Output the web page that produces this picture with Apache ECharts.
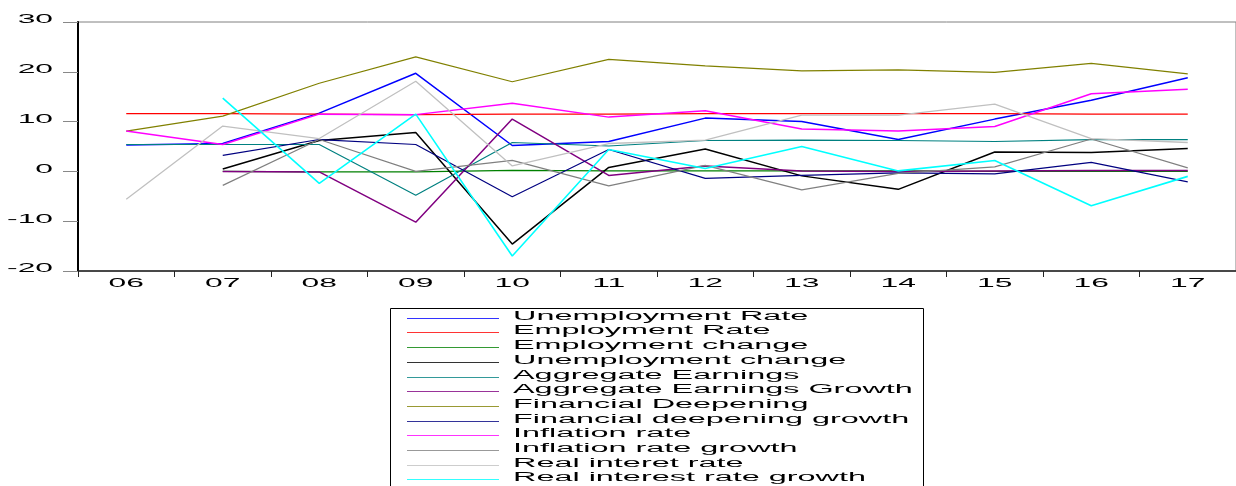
<!DOCTYPE html>
<html>
<head>
<meta charset="utf-8">
<script src="https://cdn.jsdelivr.net/npm/echarts@6/dist/echarts.min.js"></script>
<style>
  html, body { margin: 0; padding: 0; background: #ffffff; }
  #chart { width: 1236px; height: 486px; }
</style>
</head>
<body>
<div id="chart"></div>
<script>
// Years on the category axis
const years = ['06', '07', '08', '09', '10', '11', '12', '13', '14', '15', '16', '17'];
// Value axis ticks
const yTickValues = [30, 20, 10, 0, -10, -20];

// Series values (null where the series has no observation)
const unemploymentRate       = [5.3, 5.6, 11.7, 19.7, 5.2, 6.0, 10.7, 10.0, 6.4, 10.5, 14.3, 18.8];
const employmentRate         = [11.6, 11.6, 11.5, 11.4, 11.5, 11.5, 11.6, 11.6, 11.6, 11.6, 11.5, 11.5];
const employmentChange       = [null, 0.0, -0.1, -0.1, 0.2, 0.1, 0.1, 0.1, 0.1, 0.0, 0.0, 0.0];
const unemploymentChange     = [null, 0.5, 6.2, 7.8, -14.6, 0.8, 4.5, -0.9, -3.6, 3.9, 3.8, 4.6];
const aggregateEarnings      = [5.4, 5.4, 5.4, -4.8, 5.8, 5.1, 6.2, 6.3, 6.2, 6.0, 6.4, 6.4];
const aggregateEarningsGrowth= [null, 0.0, -0.1, -10.2, 10.5, -0.8, 1.1, 0.1, 0.0, 0.1, 0.2, 0.2];
const financialDeepening     = [8.1, 11.1, 17.7, 23.0, 18.0, 22.5, 21.2, 20.2, 20.4, 19.9, 21.7, 19.6];
const financialDeepeningGrowth = [null, 3.2, 6.4, 5.4, -5.1, 4.4, -1.4, -0.8, -0.3, -0.5, 1.8, -2.1];
const inflationRate          = [8.1, 5.4, 11.5, 11.4, 13.7, 10.9, 12.2, 8.5, 8.1, 9.0, 15.6, 16.5];
const inflationRateGrowth    = [null, -2.8, 6.4, 0.0, 2.2, -2.9, 1.2, -3.7, -0.4, 0.9, 6.5, 0.7];
const realInteretRate        = [-5.6, 9.1, 6.6, 18.1, 1.1, 5.6, 6.3, 11.3, 11.3, 13.5, 6.6, 5.8];
const realInterestRateGrowth = [null, 14.7, -2.4, 11.5, -17.0, 4.4, 0.6, 5.0, 0.1, 2.2, -6.9, -1.0];

const seriesNames = [
  'Unemployment Rate', 'Employment Rate', 'Employment change', 'Unemployment change',
  'Aggregate Earnings', 'Aggregate Earnings Growth', 'Financial Deepening',
  'Financial deepening growth', 'Inflation rate', 'Inflation rate growth',
  'Real interet rate', 'Real interest rate growth'
];
const seriesValues = [
  unemploymentRate, employmentRate, employmentChange, unemploymentChange,
  aggregateEarnings, aggregateEarningsGrowth, financialDeepening,
  financialDeepeningGrowth, inflationRate, inflationRateGrowth,
  realInteretRate, realInterestRateGrowth
];

// Styling
const seriesColors = ['#0000ff', '#ff0000', '#008000', '#000000', '#008080', '#800080',
                      '#808000', '#000080', '#ff00ff', '#808080', '#c0c0c0', '#00ffff'];
const seriesWidths = [1.5, 1.2, 1.2, 1.5, 1.2, 1.5, 1.2, 1.2, 1.5, 1.2, 1.3, 1.6];
const FONT = '"Liberation Sans", Arial, sans-serif';
const FONT_SIZE = 12;
const AXIS_STRETCH = 2.65;
const LEGEND_STRETCH = 2.7;

const chart = echarts.init(document.getElementById('chart'), null, { renderer: 'canvas' });

chart.setOption({
  animation: false,
  backgroundColor: '#ffffff',
  grid: { left: 78, right: 0, top: 22, bottom: 215, show: true, borderColor: '#808080', borderWidth: 1 },
  xAxis: {
    type: 'category',
    data: years,
    boundaryGap: true,
    axisLine: { onZero: false, lineStyle: { color: '#222222', width: 1.5 } },
    axisTick: { show: true, length: 6, lineStyle: { color: '#222222', width: 1 } },
    axisLabel: { show: false },
    splitLine: { show: false }
  },
  yAxis: {
    type: 'value',
    min: -20, max: 30, interval: 10,
    axisLine: { show: true, onZero: false, lineStyle: { color: '#000000', width: 2 } },
    axisTick: { show: true, length: 15, lineStyle: { color: '#888888', width: 1 } },
    axisLabel: { show: false },
    splitLine: { show: false }
  },
  series: seriesNames.map((name, i) => ({
    name: name,
    type: 'line',
    data: seriesValues[i],
    symbol: 'none',
    connectNulls: false,
    lineStyle: { color: seriesColors[i], width: seriesWidths[i] },
    itemStyle: { color: seriesColors[i] },
    z: 2 + i
  }))
});

// Width of a string in the label font, used to right-align widened labels
const measureCtx = document.createElement('canvas').getContext('2d');
measureCtx.font = FONT_SIZE + 'px ' + FONT;
function textWidth(s) { return measureCtx.measureText(s).width; }

function labelStyle(text, align) {
  return {
    text: text, fontFamily: FONT, fontSize: FONT_SIZE, fill: '#000',
    align: align, textAlign: align, verticalAlign: 'middle', textVerticalAlign: 'middle'
  };
}

// Tick labels, drawn horizontally widened, positioned through the axes' scales
const graphics = [];
const axisBottom = chart.convertToPixel({ yAxisIndex: 0 }, -20);
years.forEach(y => {
  const cx = chart.convertToPixel({ xAxisIndex: 0 }, y);
  graphics.push({
    type: 'text', silent: true,
    x: cx - textWidth(y) * AXIS_STRETCH / 2, y: axisBottom + 13,
    originX: 0, originY: 0,
    scaleX: AXIS_STRETCH,
    style: labelStyle(y, 'left')
  });
});
const yLabelRight = 53;
yTickValues.forEach(v => {
  const s = String(v);
  graphics.push({
    type: 'text', silent: true,
    x: yLabelRight - textWidth(s) * AXIS_STRETCH, y: chart.convertToPixel({ yAxisIndex: 0 }, v) - 2,
    originX: 0, originY: 0,
    scaleX: AXIS_STRETCH,
    style: labelStyle(s, 'left')
  });
});

// Legend box below the plot
const legendLeft = 390, legendTop = 308, legendRight = 923;
const rowStart = 317.7, rowStep = 14.7;
graphics.push({
  type: 'rect', silent: true,
  shape: { x: legendLeft + 0.5, y: legendTop + 0.5, width: legendRight - legendLeft, height: 220 },
  style: { fill: '#ffffff', stroke: '#000000', lineWidth: 1 },
  z: 10
});
seriesNames.forEach((name, i) => {
  const ly = Math.round(rowStart + i * rowStep) + 0.5;
  graphics.push({
    type: 'line', silent: true,
    shape: { x1: 407, y1: ly, x2: 499, y2: ly },
    style: { stroke: seriesColors[i], lineWidth: 1, opacity: 0.8 },
    z: 11
  });
  graphics.push({
    type: 'text', silent: true,
    x: 513, y: ly - 1.5,
    originX: 0, originY: 0,
    scaleX: LEGEND_STRETCH,
    style: labelStyle(name, 'left'),
    z: 11
  });
});

chart.setOption({ graphic: graphics });
</script>
</body>
</html>
